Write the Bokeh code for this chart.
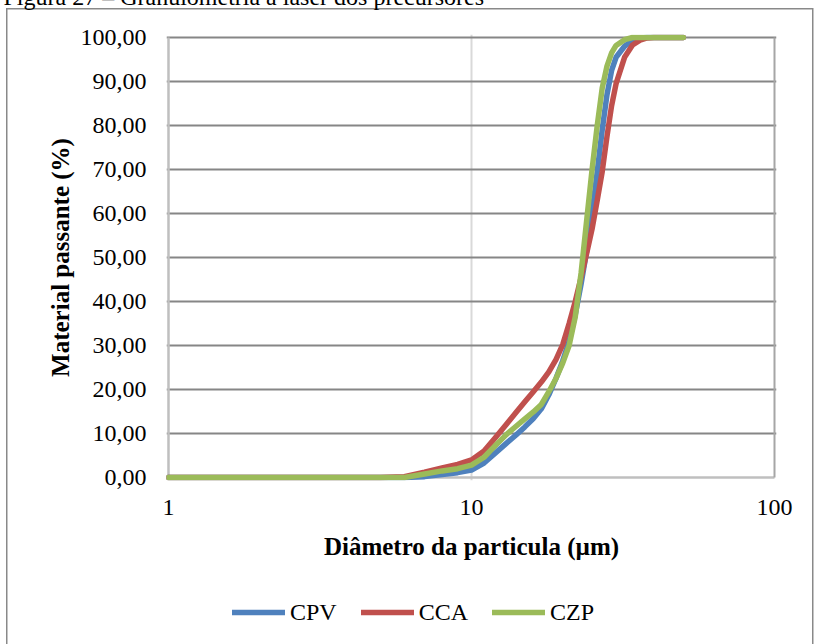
from bokeh.plotting import figure
from bokeh.layouts import column
from bokeh.models import FixedTicker, Legend, LegendItem, Range1d
from bokeh.embed import file_html
from bokeh.resources import INLINE

# Particle diameter (µm) and cumulative passing material (%) for each precursor
diametro = [1, 2, 3, 4, 5, 6, 7, 8, 9, 10,
            11, 12, 13, 14, 15, 16, 17, 18, 19, 20,
            21, 22, 23, 24, 25, 26, 27, 28, 29, 30,
            32, 34, 36, 38, 40, 45, 50]
cpv = [0, 0, 0, 0, 0, 0, 0.2, 0.7, 1.1, 1.7,
       3.3, 5.6, 7.7, 9.6, 11.5, 13.4, 15.6, 18.8, 22.5, 26.5,
       31.0, 37.0, 44.0, 51.5, 60.0, 69.5, 79.0, 87.0, 92.5, 95.5,
       98.0, 99.3, 99.9, 100, 100, 100, 100]
cca = [0, 0, 0, 0, 0, 0.2, 1.2, 2.2, 3.0, 4.0,
       6.0, 9.1, 12.0, 14.7, 17.2, 19.5, 21.7, 24.0, 26.8, 30.2,
       35.0, 40.0, 45.5, 51.0, 56.5, 63.0, 69.5, 77.5, 84.5, 89.5,
       95.5, 98.3, 99.4, 99.9, 100, 100, 100]
czp = [0, 0, 0, 0, 0, 0, 0.8, 1.5, 2.0, 2.8,
       4.6, 7.3, 9.7, 11.6, 13.3, 14.9, 16.6, 19.5, 22.5, 26.0,
       30.0, 36.5, 46.5, 58.5, 70.0, 80.0, 88.5, 93.5, 96.5, 98.2,
       99.5, 100, 100, 100, 100, 100, 100]

series_names = ["CPV", "CCA", "CZP"]
series_colors = ["#4F81BD", "#C0504D", "#9BBB59"]

x_ticks = [1, 10, 100]
x_labels = ["1", "10", "100"]
y_ticks = [0, 10, 20, 30, 40, 50, 60, 70, 80, 90, 100]
y_labels = ["0,00", "10,00", "20,00", "30,00", "40,00", "50,00",
            "60,00", "70,00", "80,00", "90,00", "100,00"]

caption = "Figura 27 – Granulometria a laser dos precursores"

FONT = "Liberation Serif"
SHIFT = 48  # the caption row sits partly above the visible page
FRAME = "linear-gradient(#898989, #898989)"

# ---------------------------------------------------------------- chart
p = figure(
    x_axis_type="log",
    x_range=Range1d(10 ** -0.0066, 10 ** 2.0066),
    y_range=Range1d(-0.68, 100.68),
    frame_width=610, frame_height=446,
    min_border_left=166, min_border_right=38,
    min_border_top=34 + SHIFT, min_border_bottom=96,
    output_backend="svg", toolbar_location=None,
    background_fill_color="white", border_fill_color=None,
)
p.outline_line_color = None

# page frame drawn behind the transparent canvas border
p.styles = {
    "margin-top": f"-{SHIFT}px",
    "background-color": "white",
    "background-image": f"{FRAME}, {FRAME}, {FRAME}",
    "background-size": "807px 1.5px, 1.5px 800px, 1.5px 800px",
    "background-position": f"6px {8 + SHIFT}px, 6px {8 + SHIFT}px, 812px {8 + SHIFT}px",
    "background-repeat": "no-repeat",
}

# caption above the chart
p.title.text = caption
p.title.align = "left"
p.title.offset = -163
p.title.vertical_align = "bottom"
p.title.standoff = 50
p.title.text_font = FONT
p.title.text_font_size = "24px"
p.title.text_font_style = "normal"
p.title.text_color = "black"

# grid: dark horizontal lines, a single light vertical line at 10 µm
p.ygrid.ticker = FixedTicker(ticks=y_ticks[1:])
p.ygrid.grid_line_color = "#868686"
p.ygrid.grid_line_width = 2
p.xgrid.ticker = FixedTicker(ticks=[10])
p.xgrid.grid_line_color = "#D9D9D9"
p.xgrid.grid_line_width = 2

# axes
p.xaxis.ticker = FixedTicker(ticks=x_ticks)
p.xaxis.major_label_overrides = dict(zip(x_ticks, x_labels))
p.yaxis.ticker = FixedTicker(ticks=y_ticks)
p.yaxis.major_label_overrides = dict(zip(y_ticks, y_labels))
for ax in (p.xaxis[0], p.yaxis[0]):
    ax.axis_line_color = None
    ax.major_tick_line_color = None
    ax.minor_tick_line_color = None
    ax.major_tick_out = 0
    ax.major_tick_in = 0
    ax.major_label_text_font = FONT
    ax.major_label_text_font_size = "24px"
    ax.major_label_text_color = "black"
    ax.axis_label_text_font = FONT
    ax.axis_label_text_font_size = "25px"
    ax.axis_label_text_font_style = "bold"
    ax.axis_label_text_color = "black"

p.xaxis.axis_label = "Diâmetro da particula (µm)"
p.yaxis.axis_label = "Material passante (%)"
p.yaxis.major_label_standoff = 20
p.yaxis.axis_label_standoff = 4
p.xaxis.major_label_standoff = 19
p.xaxis.axis_label_standoff = 15

# plot-area edges
p.segment(x0=[1], y0=[0], x1=[100], y1=[0], line_color="#BFBFBF", line_width=2.5)
p.segment(x0=[1], y0=[0], x1=[1], y1=[100], line_color="#BFBFBF", line_width=2.5)
p.segment(x0=[100], y0=[0], x1=[100], y1=[100], line_color="#A6A6A6", line_width=2)

# curves
for vals, color in zip([cpv, cca, czp], series_colors):
    p.line(diametro, vals, line_color=color, line_width=5.5,
           line_cap="round", line_join="round")

# ---------------------------------------------------------------- legend strip
leg = figure(
    width=814, height=68,
    x_range=Range1d(0, 1), y_range=Range1d(0, 1),
    x_axis_location=None, y_axis_location=None,
    min_border=0, output_backend="svg", toolbar_location=None,
    background_fill_color=None, border_fill_color=None,
)
leg.outline_line_color = None
leg.grid.visible = False
leg.styles = {
    "background-color": "white",
    "background-image": f"{FRAME}, {FRAME}",
    "background-size": "1.5px 100px, 1.5px 100px",
    "background-position": "6px 0px, 812px 0px",
    "background-repeat": "no-repeat",
}

# key-only renderers: a single NaN point, so nothing shows but the legend swatch
nan = float("nan")
keys = [leg.line(x=[nan], y=[nan], line_color=c, line_width=5.5, line_cap="round")
        for c in series_colors]

legend = Legend(
    items=[LegendItem(label=n, renderers=[r]) for n, r in zip(series_names, keys)],
    orientation="horizontal",
    location=(66, 18),
    glyph_width=53, glyph_height=28, label_height=28,
    label_standoff=5, spacing=24, padding=0, margin=0,
    border_line_color=None, background_fill_alpha=0,
    label_text_font=FONT, label_text_font_size="24px", label_text_color="black",
)
leg.add_layout(legend, "center")

page = column(p, leg, spacing=0)
open("out.html", "w").write(file_html(page, INLINE))
